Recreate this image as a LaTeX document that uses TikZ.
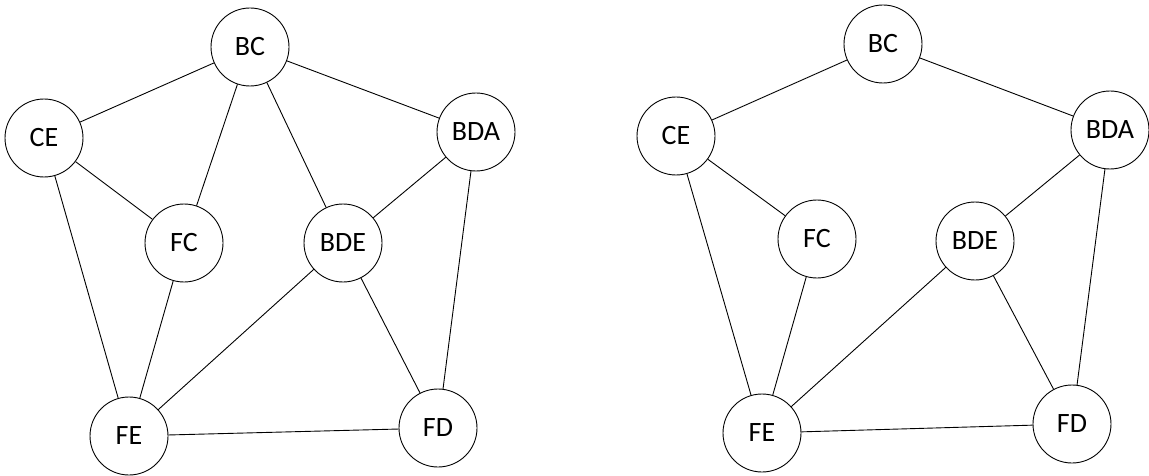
\documentclass[tikz,border=0pt]{standalone}
\usepackage{fontspec}
\setmainfont{Carlito}
\begin{document}
\begin{tikzpicture}[x=1pt,y=-1pt,
  vertex/.style={circle,draw,line width=0.9pt,minimum size=78pt,inner sep=0pt,
    font=\fontsize{28}{32}\selectfont},
  edge/.style={line width=0.9pt}]
\useasboundingbox (0,0) rectangle (1149,476);
% first graph
\node[vertex] (lBC)  at (250,47)  {BC};
\node[vertex] (lCE)  at (44,138)  {CE};
\node[vertex] (lBDA) at (476,132) {BDA};
\node[vertex] (lFC)  at (184,243) {FC};
\node[vertex] (lBDE) at (343,243) {BDE};
\node[vertex] (lFE)  at (129,436) {FE};
\node[vertex] (lFD)  at (438,428) {FD};
\draw[edge] (lBC) -- (lCE);
\draw[edge] (lBC) -- (lFC);
\draw[edge] (lBC) -- (lBDE);
\draw[edge] (lBC) -- (lBDA);
\draw[edge] (lCE) -- (lFC);
\draw[edge] (lCE) -- (lFE);
\draw[edge] (lFC) -- (lFE);
\draw[edge] (lBDA) -- (lBDE);
\draw[edge] (lBDA) -- (lFD);
\draw[edge] (lBDE) -- (lFE);
\draw[edge] (lBDE) -- (lFD);
\draw[edge] (lFE) -- (lFD);
% second graph
\node[vertex] (rBC)  at (883,44)  {BC};
\node[vertex] (rCE)  at (676,136) {CE};
\node[vertex] (rBDA) at (1110,130) {BDA};
\node[vertex] (rFC)  at (817,239) {FC};
\node[vertex] (rBDE) at (975,241) {BDE};
\node[vertex] (rFE)  at (762,433) {FE};
\node[vertex] (rFD)  at (1072,424) {FD};
\draw[edge] (rBC) -- (rCE);
\draw[edge] (rBC) -- (rBDA);
\draw[edge] (rCE) -- (rFC);
\draw[edge] (rCE) -- (rFE);
\draw[edge] (rFC) -- (rFE);
\draw[edge] (rBDA) -- (rBDE);
\draw[edge] (rBDA) -- (rFD);
\draw[edge] (rBDE) -- (rFE);
\draw[edge] (rBDE) -- (rFD);
\draw[edge] (rFE) -- (rFD);
\end{tikzpicture}
\end{document}
